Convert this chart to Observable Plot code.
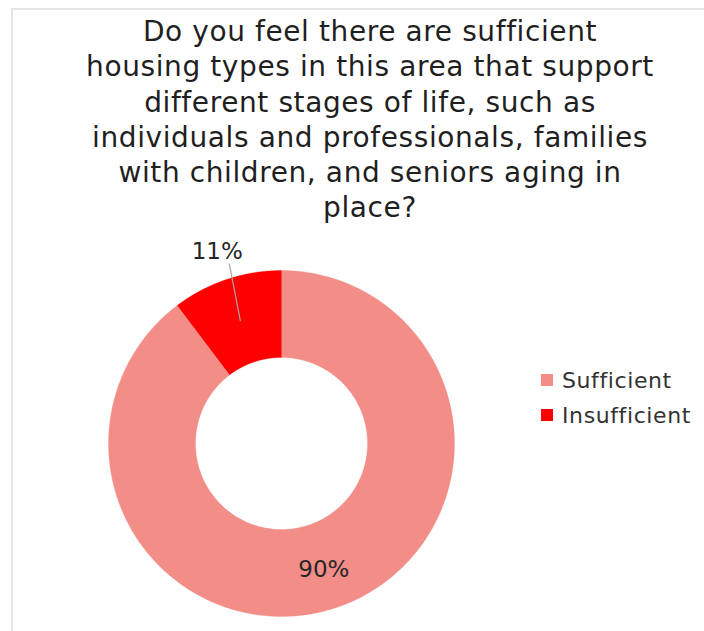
<!DOCTYPE html>
<html><head><meta charset="utf-8">
<script src="https://cdn.jsdelivr.net/npm/d3@7"></script>
<script src="https://cdn.jsdelivr.net/npm/@observablehq/plot@0.6"></script>
<style>
html,body{margin:0;padding:0;background:#fff;}
#wrap{position:relative;width:704px;height:631px;overflow:hidden;font-family:"DejaVu Sans",Verdana,sans-serif;color:#1f1f1f;}
#frame{position:absolute;left:11px;top:8px;width:700px;height:640px;border-left:2px solid #e6e6e6;border-top:2px solid #e6e6e6;}
#chart{position:absolute;left:0;top:0;}
#title{position:absolute;left:50px;width:640px;top:14px;text-align:center;font-size:28px;line-height:35.3px;letter-spacing:0.6px;white-space:nowrap;}
#legend{position:absolute;left:541px;top:368px;font-size:22px;letter-spacing:0.6px;color:#333;}
.li{position:relative;height:35px;line-height:25.6px;white-space:nowrap;}
.sw{position:absolute;left:0;top:6px;width:12px;height:12px;}
.lt{position:absolute;left:21px;top:0;}
</style>
</head><body>
<div id="wrap">
  <div id="frame"></div>
  <div id="chart"></div>
  <div id="title"></div>
  <div id="legend"></div>
</div>
<script>
// ---- data ----
const titleLines = [
  "Do you feel there are sufficient",
  "housing types in this area that support",
  "different stages of life, such as",
  "individuals and professionals, families",
  "with children, and seniors aging in",
  "place?"
];
const categories = ["Sufficient", "Insufficient"];
const shares = [0.897, 0.103];
const pctLabels = ["90%", "11%"];
const colors = ["#f38d87", "#ff0000"];

// ---- geometry from data ----
const rIn = 86 / 173;
const arcs = d3.pie().sort(null).value(d => d)(shares);
const ring = [];
arcs.forEach((p, i) => {
  const n = 300;
  for (let k = 0; k <= n; k++) {
    const a = p.startAngle + (p.endAngle - p.startAngle) * k / n;
    ring.push({cat: categories[i], x: Math.sin(a), y: Math.cos(a)});
  }
  for (let k = n; k >= 0; k--) {
    const a = p.startAngle + (p.endAngle - p.startAngle) * k / n;
    ring.push({cat: categories[i], x: rIn * Math.sin(a), y: rIn * Math.cos(a)});
  }
});
const mid = arcs.map(p => (p.startAngle + p.endAngle) / 2);
const rMid = (1 + rIn) / 2;
// label 0 inside ring, label 1 outside with leader
const labelR = [rMid * 1.03, 1.168];
const labels = pctLabels.map((t, i) => ({text: t, x: labelR[i] * Math.sin(mid[i]), y: labelR[i] * Math.cos(mid[i])}));
const leaderEnd = {x: labels[1].x + 0.07, y: labels[1].y - 0.07};
const leader = [{x: rMid * Math.sin(mid[1]), y: rMid * Math.cos(mid[1])}, leaderEnd];

const chart = Plot.plot({
  width: 704, height: 631, margin: 0,
  x: {domain: [-1, 1], range: [108, 454], axis: null},
  y: {domain: [-1, 1], range: [616, 270], axis: null},
  color: {domain: categories, range: colors},
  style: {background: "transparent"},
  marks: [
    Plot.line(ring, {x: "x", y: "y", z: "cat", fill: "cat", stroke: "cat", strokeWidth: 0.3, curve: "linear"}),
    Plot.line(leader, {x: "x", y: "y", stroke: "#a6a6a6", strokeWidth: 1.2}),
    Plot.text(labels, {x: "x", y: "y", text: "text", fontSize: 23, fill: "#262626", fontFamily: "DejaVu Sans, Verdana, sans-serif"})
  ]
});
document.getElementById("chart").appendChild(chart);

document.getElementById("title").innerHTML = titleLines.join("<br>");
const lg = document.getElementById("legend");
categories.forEach((c, i) => {
  const d = document.createElement("div");
  d.className = "li";
  d.innerHTML = `<span class="sw" style="background:${colors[i]}"></span><span class="lt">${c}</span>`;
  lg.appendChild(d);
});
</script>
</body></html>
